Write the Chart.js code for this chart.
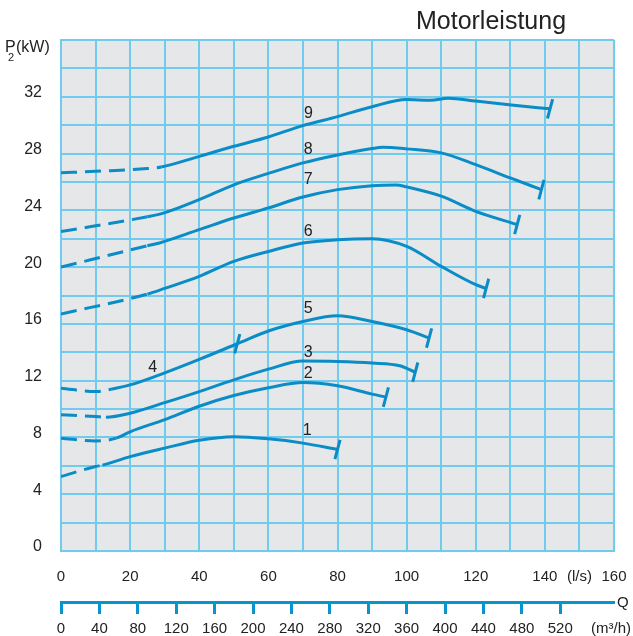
<!DOCTYPE html>
<html>
<head>
<meta charset="utf-8">
<script src="https://cdn.jsdelivr.net/npm/chart.js@4/dist/chart.umd.min.js"></script>
<style>
  html, body { margin: 0; padding: 0; background: #fff; }
  #wrap { width: 633px; height: 636px; }
</style>
</head>
<body>
<div id="wrap"><canvas id="chart"></canvas></div>
<script>
// Q in l/s, P2 in kW
const curve1Q = [0, 10, 12, 20, 30, 40, 50, 60, 70, 80]
const curve1P = [5.25, 5.95, 6.05, 6.65, 7.25, 7.8, 8.05, 7.9, 7.6, 7.15]
const curve2Q = [0, 10, 16, 20, 30, 40, 50, 60, 70, 80, 90, 94]
const curve2P = [7.95, 7.75, 7.95, 8.4, 9.25, 10.2, 10.95, 11.5, 11.87, 11.64, 11.05, 10.84]
const curve3Q = [0, 10, 13, 20, 30, 40, 50, 60, 70, 80, 90, 98, 102.5]
const curve3P = [9.6, 9.47, 9.43, 9.71, 10.45, 11.23, 12.06, 12.81, 13.38, 13.35, 13.24, 13.05, 12.6]
const curve4Q = [0, 10, 14.5, 20, 30, 40, 51]
const curve4P = [11.47, 11.23, 11.4, 11.7, 12.55, 13.5, 14.6]
const curve5Q = [51, 60, 70, 80, 90, 100, 106.5]
const curve5P = [14.6, 15.5, 16.17, 16.57, 16.17, 15.59, 15.0]
const curve6Q = [0, 25, 30, 40, 50, 60, 70, 80, 90, 100, 110, 120, 123]
const curve6P = [16.7, 18.1, 18.5, 19.35, 20.4, 21.1, 21.7, 21.93, 22.0, 21.46, 20.05, 18.76, 18.5]
const curve7Q = [0, 25, 28.5, 40, 50, 60, 70, 80, 90, 97, 100, 110, 120, 132]
const curve7P = [20.0, 21.5, 21.7, 22.64, 23.46, 24.17, 24.94, 25.46, 25.74, 25.79, 25.65, 25.0, 23.93, 23.0]
const curve8Q = [0, 25, 29.6, 40, 50, 60, 70, 80, 90, 93, 100, 110, 120, 130, 139]
const curve8P = [22.5, 23.55, 23.8, 24.75, 25.8, 26.6, 27.34, 27.9, 28.35, 28.44, 28.33, 28.05, 27.22, 26.28, 25.46]
const curve9Q = [0, 10, 25, 29, 40, 50, 60, 70, 80, 90, 100, 107, 112, 120, 131, 141.5]
const curve9P = [26.64, 26.75, 26.94, 27.05, 27.8, 28.51, 29.17, 29.97, 30.6, 31.3, 31.8, 31.76, 31.9, 31.7, 31.4, 31.15]

// flow (l/s) up to which each curve is drawn dashed
const dashedUpTo = [12, 16, 13, 14.5, 0, 25, 25, 25, 29]

const curveNames = ['1', '2', '3', '4', '5', '6', '7', '8', '9']
const nameQ = [71.2, 71.5, 71.5, 26.5, 71.5, 71.5, 71.5, 71.5, 71.6]
const nameP = [8.5, 12.5, 14.0, 12.9, 17.1, 22.5, 26.2, 28.3, 30.8]

const powerTicks = [0, 4, 8, 12, 16, 20, 24, 28, 32]
const lsTicks = [0, 20, 40, 60, 80, 100, 120, 140, 160]
const m3hTicks = [0, 40, 80, 120, 160, 200, 240, 280, 320, 360, 400, 440, 480, 520]

const BLUE = '#0a8cc6'
const AXIS = '#0795cf'
const GRID = '#70cbef'
const TEXT = '#222'
const FONT = '"Liberation Sans", Arial, sans-serif'

const curves = [
  [curve1Q, curve1P], [curve2Q, curve2P], [curve3Q, curve3P],
  [curve4Q, curve4P], [curve5Q, curve5P], [curve6Q, curve6P],
  [curve7Q, curve7P], [curve8Q, curve8P], [curve9Q, curve9P],
]

const datasets = curves.map(([qs, ps], i) => ({
  label: curveNames[i],
  data: qs.map((q, j) => ({ x: q, y: ps[j] })),
  borderColor: BLUE,
  backgroundColor: BLUE,
  borderWidth: 3,
  fill: false,
  cubicInterpolationMode: 'monotone',
  xAxisID: 'x',
  pointStyle: 'line',
  pointRotation: 105,
  pointBorderWidth: 3,
  pointBorderColor: BLUE,
  pointRadius: ctx => (ctx.dataIndex === qs.length - 1 ? 10 : 0),
  pointHoverRadius: ctx => (ctx.dataIndex === qs.length - 1 ? 10 : 0),
  segment: {
    borderDash: ctx => (ctx.p1.parsed.x <= dashedUpTo[i] ? [16, 8] : undefined),
  },
}))

const decor = {
  id: 'decor',
  beforeDraw(chart) {
    const { ctx, chartArea: a } = chart
    ctx.save()
    ctx.fillStyle = '#e6e7e9'
    ctx.fillRect(a.left, a.top, a.right - a.left, a.bottom - a.top)
    ctx.restore()
  },
  afterDraw(chart) {
    const ctx = chart.ctx
    const xs = chart.scales.x
    const ys = chart.scales.y
    ctx.save()
    ctx.fillStyle = TEXT
    ctx.textBaseline = 'alphabetic'

    ctx.font = '25px ' + FONT
    ctx.textAlign = 'center'
    ctx.fillText('Motorleistung', 491, 29)

    ctx.textAlign = 'left'
    ctx.font = '16px ' + FONT
    ctx.fillText('P', 5, 52)
    ctx.fillText('(kW)', 16, 52)
    ctx.font = '11px ' + FONT
    ctx.fillText('2', 8, 61)

    ctx.font = '15px ' + FONT
    ctx.textBaseline = 'middle'
    ctx.fillText('Q', 617, 603)
    ctx.textAlign = 'center'
    ctx.fillText('(m³/h)', 611, 629)

    ctx.font = '16px ' + FONT
    curveNames.forEach((name, i) => {
      ctx.fillText(name, xs.getPixelForValue(nameQ[i]), ys.getPixelForValue(nameP[i]))
    })
    ctx.restore()
  },
}

new Chart(document.getElementById('chart'), {
  type: 'line',
  data: { datasets },
  plugins: [decor],
  options: {
    responsive: true,
    maintainAspectRatio: false,
    animation: false,
    layout: { padding: { top: 40, right: 19, left: 0, bottom: 0 } },
    plugins: {
      legend: { display: false },
      tooltip: { enabled: false },
    },
    scales: {
      y: {
        type: 'linear',
        min: 0,
        max: 36,
        afterFit: s => { s.width = 61 },
        afterBuildTicks: s => {
          const t = []
          for (let v = 0; v <= 36; v += 2) t.push({ value: v })
          s.ticks = t
        },
        ticks: {
          autoSkip: false,
          padding: 19,
          labelOffset: -4,
          color: TEXT,
          font: { size: 16, family: FONT },
          callback: v => (powerTicks.includes(v) ? String(v) : ''),
        },
        grid: { color: GRID, lineWidth: 2, drawTicks: false },
        border: { color: GRID, width: 2 },
      },
      x: {
        type: 'linear',
        position: 'bottom',
        min: 0,
        max: 160,
        weight: 0,
        afterFit: s => { s.height = 51 },
        afterBuildTicks: s => {
          const t = []
          for (let v = 0; v <= 160; v += 10) t.push({ value: v })
          s.ticks = t
        },
        ticks: {
          autoSkip: false,
          maxRotation: 0,
          padding: 0,
          color: TEXT,
          font: { size: 15, family: FONT },
          callback: v => (v === 150 ? '(l/s)' : lsTicks.includes(v) ? String(v) : ''),
        },
        // invisible tick marks only push the labels down
        grid: { color: GRID, lineWidth: 2, drawTicks: true, tickLength: 17, tickColor: 'rgba(0,0,0,0)' },
        border: { color: GRID, width: 2 },
      },
      x2: {
        type: 'linear',
        position: 'bottom',
        min: 0,
        max: 576,
        weight: 1,
        afterFit: s => { s.height = 34 },
        afterBuildTicks: s => {
          s.ticks = m3hTicks.map(v => ({ value: v }))
        },
        ticks: {
          autoSkip: false,
          maxRotation: 0,
          padding: 6,
          color: TEXT,
          font: { size: 15, family: FONT },
          callback: v => String(v),
        },
        grid: {
          drawOnChartArea: false,
          drawTicks: true,
          tickLength: 12,
          tickWidth: 3,
          tickColor: AXIS,
          color: AXIS,
        },
        border: { color: AXIS, width: 3 },
      },
    },
  },
})
</script>
</body>
</html>
